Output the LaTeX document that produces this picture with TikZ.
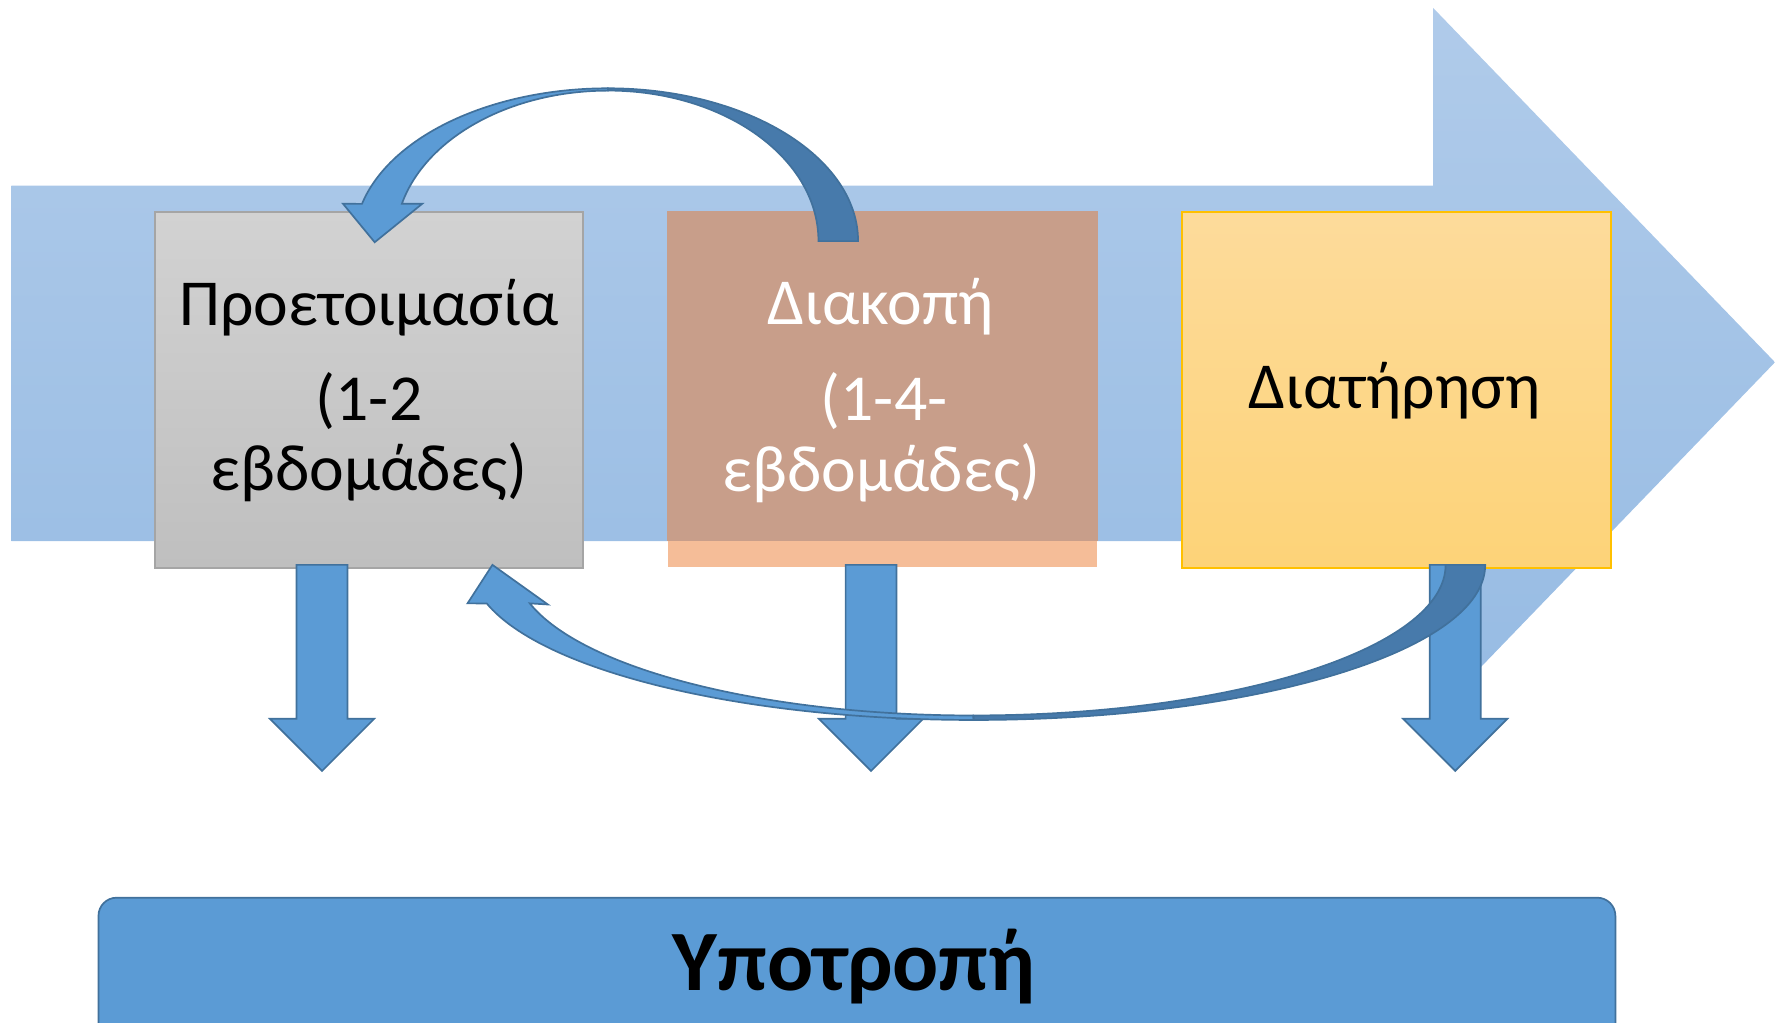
\documentclass[tikz,border=0pt]{standalone}
\usepackage{fontspec}
\setmainfont{Carlito}
\definecolor{arrowtop}{RGB}{176,203,234}
\definecolor{arrowbot}{RGB}{150,187,227}
\definecolor{graytop}{RGB}{210,210,210}
\definecolor{graybot}{RGB}{191,191,191}
\definecolor{grayline}{RGB}{165,165,165}
\definecolor{peach}{RGB}{245,189,152}
\definecolor{brownc}{RGB}{200,158,138}
\definecolor{yeltop}{RGB}{253,219,155}
\definecolor{yelbot}{RGB}{253,211,120}
\definecolor{yelline}{RGB}{255,192,0}
\definecolor{blueA}{RGB}{91,155,213}
\definecolor{blueline}{RGB}{65,113,156}
\definecolor{bluedark}{RGB}{71,122,171}
\tikzset{
  stagebox/.style={minimum width=#1, minimum height=315pt, inner sep=0pt, line width=1.5pt},
  txt/.style={anchor=base, inner sep=0pt, font=\fontsize{58}{60}\selectfont},
  blk/.style={fill=blueA, draw=blueline, line width=1.5pt, line join=miter},
  riblight/.style={fill=blueA, draw=blueline, line width=1.5pt},
  ribdark/.style={fill=bluedark, draw=blueline, line width=1.5pt},
}
\newcommand\dnarrow[1]{%
  \filldraw[blk] (#1-22.5,-499) -- (#1+22.5,-499) -- (#1+22.5,-635) -- (#1+46,-635)
    -- (#1,-681) -- (#1-46,-635) -- (#1-22.5,-635) -- cycle;}
\begin{document}
\begin{tikzpicture}[x=1pt,y=1pt]
\useasboundingbox (0,0) rectangle (1568,-903.7);
\clip (0,0) rectangle (1568,-903.7);
% big process arrow
\shade[top color=arrowtop, bottom color=arrowbot]
  (10,-164) -- (1266,-164) -- (1266,-7) -- (1568,-320) -- (1266,-633)
  -- (1266,-478) -- (10,-478) -- cycle;
% boxes
\node[stagebox=378pt, draw=grayline, top color=graytop, bottom color=graybot] (b1) at (326,-344.5) {};
\node[stagebox=379pt, fill=peach, minimum height=314pt] (b2) at (779.5,-344) {};
\fill[brownc] (b2.north west) rectangle ([yshift=23.5pt]b2.south east);
\node[stagebox=379pt, draw=yelline, top color=yeltop, bottom color=yelbot] (b3) at (1233.5,-344.5) {};
% texts
\node[txt] (t1a) at (326,-287.4) {Προετοιμασία};
\node[txt] (t1b) at (326,-371.3) {(1-2};
\node[txt] (t1c) at (326,-433) {εβδομάδες)};
\node[txt, text=white] (t2a) at (778,-286.8) {Διακοπή};
\node[txt, text=white] (t2b) at (781,-371.3) {(1-4-};
\node[txt, text=white] (t2c) at (778.6,-434) {εβδομάδες)};
\node[txt] (t3a) at (1232,-361) {Διατήρηση};
% relapse box
\node[draw=blueline, fill=blueA, line width=1.5pt, rounded corners=16pt,
      minimum width=1340pt, minimum height=150pt, inner sep=0pt] (rel) at (757,-868) {};
\node[anchor=base, inner sep=0pt, font=\fontsize{76}{80}\selectfont\bfseries] (relt) at (754.5,-874.6) {Υποτροπή};
% down arrows
\dnarrow{284.5}
\dnarrow{769.5}
\dnarrow{1285.5}
% top curved arrow (from b2 back to b1)
\filldraw[ribdark] (758,-213) arc[start angle=0,end angle=90,x radius=221,y radius=135]
  -- (537,-80) arc[start angle=90,end angle=0,x radius=186,y radius=133] -- cycle;
\filldraw[riblight] (537,-78) arc[start angle=90,end angle=165.9,x radius=224,y radius=135]
  -- (303,-180) -- (331,-214) -- (373,-180) -- (355,-180)
  arc[start angle=165.6,end angle=90,x radius=188,y radius=133] -- cycle;
% bottom curved arrow (from b3 back to b1)
\filldraw[ribdark] (1312,-499) arc[start angle=0,end angle=-90,x radius=452,y radius=137]
  -- (860,-632) arc[start angle=-90,end angle=0,x radius=417,y radius=133] -- cycle;
\filldraw[riblight] (860,-636) arc[start angle=-90,end angle=-165.6,x radius=444,y radius=137]
  -- (413,-533) -- (435,-499) -- (484,-534) -- (468,-533)
  arc[start angle=-165.2,end angle=-90,x radius=405,y radius=133] -- cycle;
\end{tikzpicture}
\end{document}
